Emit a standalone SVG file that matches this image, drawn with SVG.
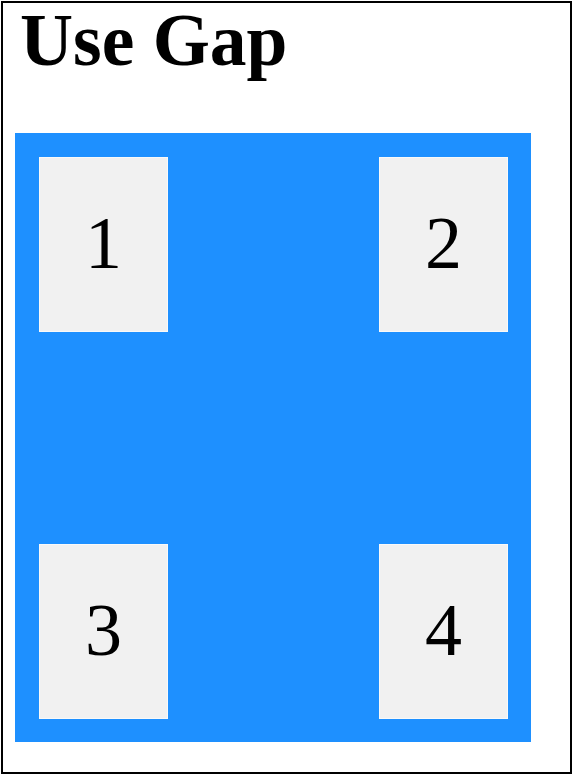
<svg xmlns="http://www.w3.org/2000/svg" width="574" height="777" viewBox="0 0 574 777">
<style>
.box rect{fill:#f1f1f1;stroke:#f9f9f9;stroke-width:1}
.box text{font-family:"Liberation Serif",serif;font-size:74px;text-anchor:middle;fill:#000}
</style>
<rect x="0" y="0" width="574" height="777" fill="#fff"/>
<rect x="2" y="2" width="569" height="771" fill="none" stroke="#000" stroke-width="2"/>
<text x="20" y="65" font-family="Liberation Serif,serif" font-weight="bold" font-size="73.5" fill="#000">Use Gap</text>
<rect id="container" x="15" y="133" width="516" height="609" fill="#1e90ff"/>
<g id="node1" class="box"><rect x="39.5" y="157.5" width="128" height="174"/><text x="103.5" y="268">1</text></g>
<g id="node2" class="box"><rect x="379.5" y="157.5" width="128" height="174"/><text x="443.5" y="268">2</text></g>
<g id="node3" class="box"><rect x="39.5" y="544.5" width="128" height="174"/><text x="103.5" y="655">3</text></g>
<g id="node4" class="box"><rect x="379.5" y="544.5" width="128" height="174"/><text x="443.5" y="655">4</text></g>
<g id="connectors"></g>
</svg>
